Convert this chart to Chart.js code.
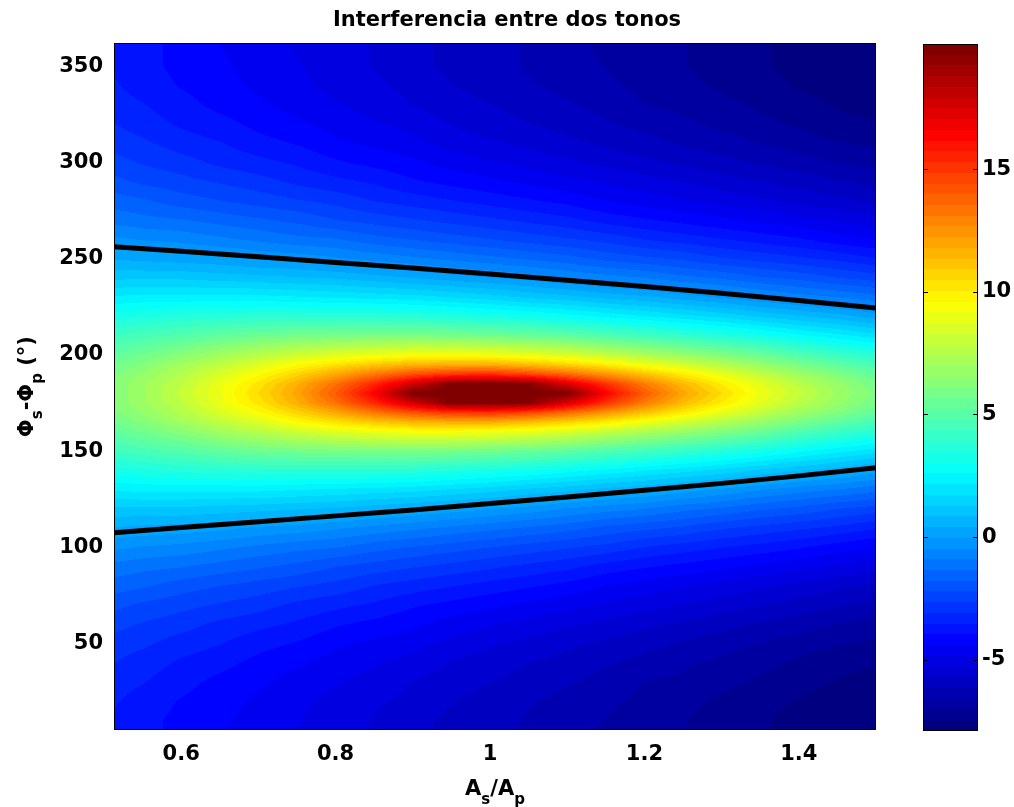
<!DOCTYPE html>
<html>
<head>
<meta charset="utf-8">
<script src="https://cdn.jsdelivr.net/npm/chart.js@4.4.1/dist/chart.umd.min.js"></script>
<style>
  html, body { margin: 0; padding: 0; background: #fff; }
  #wrap { position: relative; width: 1014px; height: 807px; }
  #main { position: absolute; left: 0; top: 0; }
  #bar { position: absolute; left: 896px; top: 0; }
</style>
</head>
<body>
<div id="wrap">
  <canvas id="main" width="1014" height="807"></canvas>
  <canvas id="bar" width="118" height="807"></canvas>
</div>
<script>
// amplitude ratio As/Ap (columns) and phase difference in degrees (rows)
const ratio = [0.5, 0.55, 0.6, 0.65, 0.7, 0.75, 0.8, 0.85, 0.9, 0.95, 1.0,
               1.05, 1.1, 1.15, 1.2, 1.25, 1.3, 1.35, 1.4, 1.45, 1.5];
const phase = [0, 10, 20, 30, 40, 50, 60, 70, 80, 90, 100, 110, 120, 130, 140, 150, 160, 165, 170, 175, 180,
               185, 190, 195, 200, 210, 220, 230, 240, 250, 260, 270, 280, 290, 300, 310, 320, 330, 340, 350, 360];

// level (dB) for each phase row, one value per ratio column
const level = [
  [-3.5,-3.8,-4.1,-4.4,-4.6,-4.9,-5.1,-5.3,-5.6,-5.8,-6.0,-6.2,-6.4,-6.7,-6.9,-7.0,-7.2,-7.4,-7.6,-7.8,-8.0],
  [-3.5,-3.8,-4.1,-4.3,-4.6,-4.8,-5.1,-5.3,-5.6,-5.8,-6.0,-6.2,-6.4,-6.6,-6.8,-7.0,-7.2,-7.4,-7.6,-7.8,-7.9],
  [-3.4,-3.7,-4.0,-4.2,-4.5,-4.7,-5.0,-5.2,-5.4,-5.7,-5.9,-6.1,-6.3,-6.5,-6.7,-6.9,-7.1,-7.3,-7.5,-7.7,-7.8],
  [-3.3,-3.5,-3.8,-4.1,-4.3,-4.6,-4.8,-5.0,-5.3,-5.5,-5.7,-5.9,-6.1,-6.3,-6.6,-6.7,-6.9,-7.1,-7.3,-7.5,-7.7],
  [-3.0,-3.3,-3.6,-3.8,-4.1,-4.3,-4.6,-4.8,-5.0,-5.3,-5.5,-5.7,-5.9,-6.1,-6.3,-6.5,-6.7,-6.9,-7.1,-7.3,-7.4],
  [-2.8,-3.0,-3.3,-3.5,-3.8,-4.0,-4.3,-4.5,-4.7,-5.0,-5.2,-5.4,-5.6,-5.8,-6.0,-6.2,-6.4,-6.6,-6.8,-7.0,-7.1],
  [-2.4,-2.7,-2.9,-3.2,-3.4,-3.6,-3.9,-4.1,-4.3,-4.6,-4.8,-5.0,-5.2,-5.4,-5.6,-5.8,-6.0,-6.2,-6.4,-6.6,-6.8],
  [-2.0,-2.3,-2.5,-2.7,-2.9,-3.2,-3.4,-3.6,-3.9,-4.1,-4.3,-4.5,-4.7,-4.9,-5.1,-5.3,-5.5,-5.7,-5.9,-6.1,-6.3],
  [-1.5,-1.7,-2.0,-2.2,-2.4,-2.6,-2.8,-3.1,-3.3,-3.5,-3.7,-3.9,-4.1,-4.4,-4.6,-4.8,-5.0,-5.2,-5.4,-5.6,-5.8],
  [-1.0,-1.2,-1.3,-1.5,-1.7,-1.9,-2.2,-2.4,-2.6,-2.8,-3.0,-3.2,-3.4,-3.7,-3.9,-4.1,-4.3,-4.5,-4.7,-4.9,-5.1],
  [-0.3,-0.5,-0.6,-0.8,-1.0,-1.2,-1.3,-1.6,-1.8,-2.0,-2.2,-2.4,-2.6,-2.8,-3.1,-3.3,-3.5,-3.7,-3.9,-4.2,-4.4],
  [0.4,0.3,0.2,0.1,-0.1,-0.2,-0.4,-0.6,-0.8,-1.0,-1.2,-1.4,-1.6,-1.9,-2.1,-2.3,-2.6,-2.8,-3.0,-3.2,-3.5],
  [1.2,1.2,1.2,1.1,1.0,0.9,0.8,0.6,0.4,0.2,0.0,-0.2,-0.5,-0.7,-0.9,-1.2,-1.4,-1.7,-1.9,-2.2,-2.4],
  [2.2,2.3,2.3,2.3,2.3,2.2,2.1,2.0,1.9,1.7,1.5,1.2,1.0,0.7,0.5,0.2,-0.1,-0.4,-0.7,-0.9,-1.2],
  [3.2,3.4,3.6,3.7,3.8,3.8,3.8,3.8,3.7,3.5,3.3,3.1,2.8,2.5,2.2,1.9,1.6,1.2,0.9,0.6,0.2],
  [4.2,4.6,4.9,5.3,5.6,5.8,5.9,6.0,6.0,5.9,5.7,5.5,5.2,4.8,4.4,4.0,3.6,3.2,2.7,2.3,1.9],
  [5.1,5.7,6.3,7.0,7.6,8.2,8.7,9.0,9.3,9.3,9.2,8.9,8.5,7.9,7.3,6.7,6.1,5.5,4.8,4.2,3.7],
  [5.5,6.2,7.0,7.8,8.6,9.5,10.3,11.0,11.5,11.7,11.7,11.3,10.7,10.0,9.1,8.3,7.5,6.7,5.9,5.2,4.5],
  [5.8,6.6,7.5,8.5,9.5,10.7,11.9,13.2,14.3,15.0,15.2,14.6,13.6,12.4,11.2,10.0,8.9,7.9,6.9,6.1,5.3],
  [6.0,6.9,7.8,9.0,10.2,11.7,13.4,15.4,17.7,20.0,20.0,19.8,17.4,15.1,13.1,11.4,10.0,8.8,7.7,6.7,5.8],
  [6.0,6.9,8.0,9.1,10.5,12.0,14.0,16.5,20.0,20.0,20.0,20.0,20.0,16.5,14.0,12.0,10.5,9.1,8.0,6.9,6.0],
  [6.0,6.9,7.8,9.0,10.2,11.7,13.4,15.4,17.7,20.0,20.0,19.8,17.4,15.1,13.1,11.4,10.0,8.8,7.7,6.7,5.8],
  [5.8,6.6,7.5,8.5,9.5,10.7,11.9,13.2,14.3,15.0,15.2,14.6,13.6,12.4,11.2,10.0,8.9,7.9,6.9,6.1,5.3],
  [5.5,6.2,7.0,7.8,8.6,9.5,10.3,11.0,11.5,11.7,11.7,11.3,10.7,10.0,9.1,8.3,7.5,6.7,5.9,5.2,4.5],
  [5.1,5.7,6.3,7.0,7.6,8.2,8.7,9.0,9.3,9.3,9.2,8.9,8.5,7.9,7.3,6.7,6.1,5.5,4.8,4.2,3.7],
  [4.2,4.6,4.9,5.3,5.6,5.8,5.9,6.0,6.0,5.9,5.7,5.5,5.2,4.8,4.4,4.0,3.6,3.2,2.7,2.3,1.9],
  [3.2,3.4,3.6,3.7,3.8,3.8,3.8,3.8,3.7,3.5,3.3,3.1,2.8,2.5,2.2,1.9,1.6,1.2,0.9,0.6,0.2],
  [2.2,2.3,2.3,2.3,2.3,2.2,2.1,2.0,1.9,1.7,1.5,1.2,1.0,0.7,0.5,0.2,-0.1,-0.4,-0.7,-0.9,-1.2],
  [1.2,1.2,1.2,1.1,1.0,0.9,0.8,0.6,0.4,0.2,0.0,-0.2,-0.5,-0.7,-0.9,-1.2,-1.4,-1.7,-1.9,-2.2,-2.4],
  [0.4,0.3,0.2,0.1,-0.1,-0.2,-0.4,-0.6,-0.8,-1.0,-1.2,-1.4,-1.6,-1.9,-2.1,-2.3,-2.6,-2.8,-3.0,-3.2,-3.5],
  [-0.3,-0.5,-0.6,-0.8,-1.0,-1.2,-1.3,-1.6,-1.8,-2.0,-2.2,-2.4,-2.6,-2.8,-3.1,-3.3,-3.5,-3.7,-3.9,-4.2,-4.4],
  [-1.0,-1.2,-1.3,-1.5,-1.7,-1.9,-2.2,-2.4,-2.6,-2.8,-3.0,-3.2,-3.4,-3.7,-3.9,-4.1,-4.3,-4.5,-4.7,-4.9,-5.1],
  [-1.5,-1.7,-2.0,-2.2,-2.4,-2.6,-2.8,-3.1,-3.3,-3.5,-3.7,-3.9,-4.1,-4.4,-4.6,-4.8,-5.0,-5.2,-5.4,-5.6,-5.8],
  [-2.0,-2.3,-2.5,-2.7,-2.9,-3.2,-3.4,-3.6,-3.9,-4.1,-4.3,-4.5,-4.7,-4.9,-5.1,-5.3,-5.5,-5.7,-5.9,-6.1,-6.3],
  [-2.4,-2.7,-2.9,-3.2,-3.4,-3.6,-3.9,-4.1,-4.3,-4.6,-4.8,-5.0,-5.2,-5.4,-5.6,-5.8,-6.0,-6.2,-6.4,-6.6,-6.8],
  [-2.8,-3.0,-3.3,-3.5,-3.8,-4.0,-4.3,-4.5,-4.7,-5.0,-5.2,-5.4,-5.6,-5.8,-6.0,-6.2,-6.4,-6.6,-6.8,-7.0,-7.1],
  [-3.0,-3.3,-3.6,-3.8,-4.1,-4.3,-4.6,-4.8,-5.0,-5.3,-5.5,-5.7,-5.9,-6.1,-6.3,-6.5,-6.7,-6.9,-7.1,-7.3,-7.4],
  [-3.3,-3.5,-3.8,-4.1,-4.3,-4.6,-4.8,-5.0,-5.3,-5.5,-5.7,-5.9,-6.1,-6.3,-6.6,-6.7,-6.9,-7.1,-7.3,-7.5,-7.7],
  [-3.4,-3.7,-4.0,-4.2,-4.5,-4.7,-5.0,-5.2,-5.4,-5.7,-5.9,-6.1,-6.3,-6.5,-6.7,-6.9,-7.1,-7.3,-7.5,-7.7,-7.8],
  [-3.5,-3.8,-4.1,-4.3,-4.6,-4.8,-5.1,-5.3,-5.6,-5.8,-6.0,-6.2,-6.4,-6.6,-6.8,-7.0,-7.2,-7.4,-7.6,-7.8,-7.9],
  [-3.5,-3.8,-4.1,-4.4,-4.6,-4.9,-5.1,-5.3,-5.6,-5.8,-6.0,-6.2,-6.4,-6.7,-6.9,-7.0,-7.2,-7.4,-7.6,-7.8,-8.0]
];

// black contour lines
const contourRatio = [0.5, 0.6, 0.7, 0.8, 0.9, 1.0, 1.1, 1.2, 1.3, 1.4, 1.5];
const contourLow   = [107.2, 110.2, 113.2, 116.3, 119.4, 122.7, 126.1, 129.6, 133.2, 137.1, 141.3];
const contourHigh  = [256.6, 253.8, 251.0, 248.0, 245.1, 242.0, 238.8, 235.5, 232.0, 228.3, 224.3];

const ratioTicks = [0.6, 0.8, 1, 1.2, 1.4];
const phaseTicks = [50, 100, 150, 200, 250, 300, 350];
const levelTicks = [-5, 0, 5, 10, 15];

const cMin = -7.9, cMax = 20.1;

Chart.defaults.font.family = '"DejaVu Sans", sans-serif';
Chart.defaults.color = '#000';
const tickFont = { size: 21, weight: 'bold' };

// matlab style jet colormap, 64 steps
function jet(v) {
  let k = Math.floor((v - cMin) / (cMax - cMin) * 64);
  k = Math.max(0, Math.min(63, k));
  const s = k / 63;
  const c = (d) => Math.round(255 * Math.max(0, Math.min(1, 1.5 - Math.abs(4 * s - d))));
  return [c(3), c(2), c(1)];
}

// where a value sits in a grid axis: lower index + fraction
function locate(vals, v) {
  let i = 0;
  while (i < vals.length - 2 && vals[i + 1] <= v) i++;
  const t = Math.max(0, Math.min(1, (v - vals[i]) / (vals[i + 1] - vals[i])));
  return [i, t];
}

// interpolated shading between the grid values (like shading interp)
const heatmap = {
  id: 'heatmap',
  beforeDatasetsDraw(chart) {
    const { ctx, chartArea: a, scales: { x, y } } = chart;
    const left = Math.round(a.left), top = Math.round(a.top);
    const w = Math.round(a.right) - left, h = Math.round(a.bottom) - top;
    const cols = [], rows = [];
    for (let px = 0; px < w; px++) cols.push(locate(ratio, x.getValueForPixel(left + px + 0.5)));
    for (let py = 0; py < h; py++) rows.push(locate(phase, y.getValueForPixel(top + py + 0.5)));
    const img = ctx.createImageData(w, h);
    rows.forEach(([j, ty], py) => {
      const r0 = level[j], r1 = level[j + 1];
      cols.forEach(([i, tx], px) => {
        const a0 = r0[i] + (r0[i + 1] - r0[i]) * tx;
        const a1 = r1[i] + (r1[i + 1] - r1[i]) * tx;
        const rgb = jet(a0 + (a1 - a0) * ty);
        const o = (py * w + px) * 4;
        img.data[o] = rgb[0]; img.data[o + 1] = rgb[1]; img.data[o + 2] = rgb[2]; img.data[o + 3] = 255;
      });
    });
    const off = document.createElement('canvas');
    off.width = w; off.height = h;
    off.getContext('2d').putImageData(img, 0, 0);
    ctx.drawImage(off, left, top);
  }
};

const frame = {
  id: 'frame',
  afterDatasetsDraw(chart) {
    const { ctx, chartArea: a } = chart;
    ctx.save();
    ctx.strokeStyle = '#000';
    ctx.lineWidth = 1;
    ctx.strokeRect(Math.round(a.left) + 0.5, Math.round(a.top) + 0.5,
                   Math.round(a.width) - 1, Math.round(a.height) - 1);
    ctx.restore();
  }
};

// text with subscripts, centred on cx
function drawSub(ctx, parts, cx, cy) {
  const big = 'bold 21px "DejaVu Sans"', small = 'bold 15px "DejaVu Sans"';
  let w = 0;
  parts.forEach(([t, sub]) => { ctx.font = sub ? small : big; w += ctx.measureText(t).width; });
  let x = cx - w / 2;
  ctx.textAlign = 'left';
  ctx.textBaseline = 'alphabetic';
  parts.forEach(([t, sub]) => {
    ctx.font = sub ? small : big;
    ctx.fillText(t, x, cy + (sub ? 9 : 0));
    x += ctx.measureText(t).width;
  });
}

const axisTitles = {
  id: 'axisTitles',
  afterDraw(chart) {
    const { ctx, chartArea: a } = chart;
    ctx.save();
    ctx.fillStyle = '#000';
    drawSub(ctx, [['A', false], ['s', true], ['/A', false], ['p', true]], (a.left + a.right) / 2, 795);
    ctx.translate(33, (a.top + a.bottom) / 2);
    ctx.rotate(-Math.PI / 2);
    drawSub(ctx, [['Φ', false], ['s', true], ['-Φ', false], ['p', true], [' (°)', false]], 0, 0);
    ctx.restore();
  }
};

new Chart(document.getElementById('main'), {
  type: 'scatter',
  data: {
    datasets: [
      {
        data: contourRatio.map((r, i) => ({ x: r, y: contourHigh[i] })),
        showLine: true, borderColor: '#000', borderWidth: 5, pointRadius: 0, clip: 0
      },
      {
        data: contourRatio.map((r, i) => ({ x: r, y: contourLow[i] })),
        showLine: true, borderColor: '#000', borderWidth: 5, pointRadius: 0, clip: 0
      }
    ]
  },
  options: {
    responsive: false,
    animation: false,
    layout: { padding: 0 },
    plugins: {
      legend: { display: false },
      tooltip: { enabled: false },
      title: {
        display: true,
        text: 'Interferencia entre dos tonos',
        color: '#000',
        font: { size: 21, weight: 'bold' },
        padding: { top: 8, bottom: 10 }
      }
    },
    scales: {
      x: {
        type: 'linear', min: 0.513, max: 1.5,
        grid: { display: false, drawTicks: false },
        border: { display: false },
        afterBuildTicks: (s) => { s.ticks = ratioTicks.map(v => ({ value: v })); },
        afterFit: (s) => { s.height = 77; },
        ticks: { font: tickFont, color: '#000', padding: 12, autoSkip: false, maxRotation: 0,
                 callback: (v) => String(v) }
      },
      y: {
        type: 'linear', min: 5, max: 362,
        grid: { display: false, drawTicks: false },
        border: { display: false },
        afterBuildTicks: (s) => { s.ticks = phaseTicks.map(v => ({ value: v })); },
        afterFit: (s) => { s.width = 114; },
        ticks: { font: tickFont, color: '#000', padding: 11, autoSkip: false,
                 callback: (v) => String(v) }
      },
      // empty right-hand strip that leaves room for the colour bar
      spare: {
        type: 'linear', position: 'right', min: 0, max: 1,
        grid: { display: false, drawTicks: false },
        border: { display: false },
        ticks: { display: false },
        afterFit: (s) => { s.width = 138; }
      }
    }
  },
  plugins: [heatmap, frame, axisTitles]
});

// colour bar
const colorbar = {
  id: 'colorbar',
  beforeDraw(chart) {
    const { ctx, chartArea: a, scales: { y } } = chart;
    ctx.save();
    for (let k = 0; k < 64; k++) {
      const lo = cMin + (cMax - cMin) * k / 64;
      const hi = cMin + (cMax - cMin) * (k + 1) / 64;
      const yt = Math.round(y.getPixelForValue(hi));
      const yb = Math.round(y.getPixelForValue(lo));
      const rgb = jet((lo + hi) / 2);
      ctx.fillStyle = `rgb(${rgb[0]},${rgb[1]},${rgb[2]})`;
      ctx.fillRect(a.left, yt, a.width, yb - yt);
    }
    ctx.strokeStyle = '#000';
    ctx.lineWidth = 1;
    ctx.strokeRect(a.left + 0.5, a.top + 0.5, a.width - 1, a.height - 1);
    levelTicks.forEach(v => {
      const py = Math.round(y.getPixelForValue(v)) + 0.5;
      ctx.beginPath();
      ctx.moveTo(a.left, py); ctx.lineTo(a.left + 5, py);
      ctx.moveTo(a.right - 5, py); ctx.lineTo(a.right, py);
      ctx.stroke();
    });
    ctx.restore();
  }
};

new Chart(document.getElementById('bar'), {
  type: 'scatter',
  data: { datasets: [] },
  options: {
    responsive: false,
    animation: false,
    layout: { padding: { left: 27, right: 0, top: 44, bottom: 76 } },
    plugins: { legend: { display: false }, tooltip: { enabled: false } },
    scales: {
      x: { display: false, min: 0, max: 1 },
      y: {
        position: 'right', min: cMin, max: cMax,
        grid: { display: false, drawTicks: false },
        border: { display: false },
        afterBuildTicks: (s) => { s.ticks = levelTicks.map(v => ({ value: v })); },
        afterFit: (s) => { s.width = 36; },
        ticks: { font: tickFont, color: '#000', padding: 4, autoSkip: false,
                 callback: (v) => String(v) }
      }
    }
  },
  plugins: [colorbar]
});
</script>
</body>
</html>
